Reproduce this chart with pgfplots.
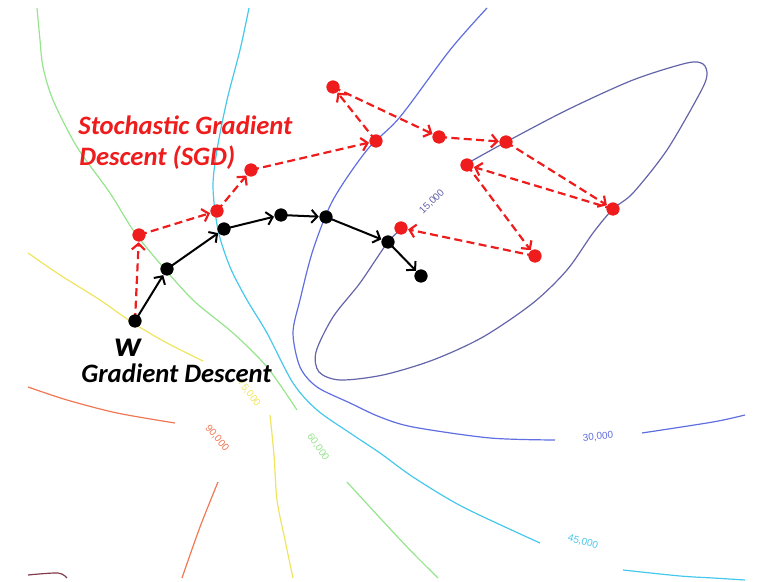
\documentclass[border=0pt]{standalone}
\usepackage{pgfplots}
\pgfplotsset{compat=1.18}
\usepackage{fontspec}
\setmainfont{Carlito}
\newfontfamily\labelfont{Liberation Sans}
\usetikzlibrary{arrows.meta}
\definecolor{cgreen}{RGB}{150,228,140}
\definecolor{ccyan}{RGB}{70,200,235}
\definecolor{cblue}{RGB}{95,110,225}
\definecolor{cslate}{RGB}{100,100,170}
\definecolor{cyellow}{RGB}{240,228,95}
\definecolor{corange}{RGB}{240,120,85}
\definecolor{cmaroon}{RGB}{130,60,75}
\definecolor{sgdred}{RGB}{238,28,28}
\begin{document}
\begin{tikzpicture}
\begin{axis}[
  scale only axis, width=378.5pt, height=291pt,
  xmin=0, xmax=757, ymin=0, ymax=582, y dir=reverse,
  axis lines=box, axis line style={draw=none}, ticks=none,
  clip=true,
  every axis plot/.append style={line join=round},
]
% contour lines
\addplot[cgreen, line width=0.6pt, smooth] coordinates {(37,8) (40,40) (43,67) (53,100) (77,147) (110,193) (133,230) (157,260) (193,300) (233,333) (267,367) (297,410)};
\addplot[cgreen, line width=0.6pt, smooth] coordinates {(347,482) (380,518) (410,550) (438,578)};
\addplot[ccyan, line width=0.6pt, smooth] coordinates {(249,8) (240,50) (227,100) (217,150) (213,187) (218,230) (230,267) (247,300) (267,333) (293,383) (317,410) (350,433) (380,453) (413,477) (463,507) (540,543)};
\addplot[ccyan, line width=0.6pt, smooth] coordinates {(623,570) (680,576) (713,578) (745,580)};
\addplot[cblue, line width=0.6pt, smooth] coordinates {(487,8) (450,50) (400,117) (367,150) (333,200) (313,250) (300,300) (293,333) (300,367) (317,387) (350,403) (380,417) (413,427) (490,438) (555,440)};
\addplot[cblue, line width=0.6pt, smooth] coordinates {(642,433) (713,422) (745,415)};
\addplot[cslate, line width=0.6pt, smooth] coordinates {(468,163) (506,142) (567,110) (633,80) (687,63) (703,64) (707,75) (700,93) (667,150) (633,193) (613,209) (593,233) (567,270) (533,303) (483,337) (433,360) (383,375) (340,380) (319,372) (316,352) (333,317) (360,283) (388,242) (403,228)};
\addplot[cyellow, line width=0.6pt, smooth] coordinates {(28,253) (60,275) (100,300) (133,323) (167,343) (203,361)};
\addplot[cyellow, line width=0.6pt, smooth] coordinates {(270,415) (274,455) (277,500) (285,540) (293,578)};
\addplot[corange, line width=0.6pt, smooth] coordinates {(28,387) (67,400) (117,413) (175,423)};
\addplot[corange, line width=0.6pt, smooth] coordinates {(218,482) (200,527) (182,578)};
\addplot[cmaroon, line width=0.6pt, smooth] coordinates {(28,575) (58,573) (67,578)};
% contour labels
\node[font=\labelfont\fontsize{5}{6}\selectfont, text=cslate, rotate=45] at (axis cs:432,202) {15,000};
\node[font=\labelfont\fontsize{5}{6}\selectfont, text=cblue, rotate=5] at (axis cs:598,437) {30,000};
\node[font=\labelfont\fontsize{5}{6}\selectfont, text=ccyan, rotate=-15] at (axis cs:583,542) {45,000};
\node[font=\labelfont\fontsize{5}{6}\selectfont, text=cgreen, rotate=-55] at (axis cs:318,447) {60,000};
\node[font=\labelfont\fontsize{5}{6}\selectfont, text=cyellow, rotate=-52] at (axis cs:249,393) {75,000};
\node[font=\labelfont\fontsize{5}{6}\selectfont, text=corange, rotate=-50] at (axis cs:217,438) {90,000};
% SGD arrows
\addplot[sgdred, line width=1.1pt, dash pattern=on 4pt off 2.2pt, -{Straight Barb[length=3pt,width=6.5pt]}, shorten >=3.6pt,
  quiver={u=\thisrow{x2}-\thisrow{x}, v=\thisrow{y2}-\thisrow{y}}] table {
x y x2 y2
135 321 139 235
139 235 217 211
217 211 251 170
251 170 376 141
376 141 333 87
333 87 439 137
439 137 506 142
506 142 613 209
613 209 467 165
467 165 535 256
535 256 401 228
};
% GD arrows
\addplot[black, line width=1pt, -{Straight Barb[length=3pt,width=6.5pt]}, shorten >=3.6pt,
  quiver={u=\thisrow{x2}-\thisrow{x}, v=\thisrow{y2}-\thisrow{y}}] table {
x y x2 y2
135 321 167 269
167 269 224 229
224 229 281 215
281 215 326 217
326 217 388 242
388 242 421 276
};
\addplot[only marks, mark=*, mark size=3.1pt, sgdred, mark options={draw=sgdred, fill=sgdred}] coordinates {
(139,235) (217,211) (251,170) (376,141) (333,87) (439,137) (506,142) (613,209) (467,165) (535,256) (401,228)};
\addplot[only marks, mark=*, mark size=3.1pt, black] coordinates {
(135,321) (167,269) (224,229) (281,215) (326,217) (388,242) (421,276)};
% texts
\node[anchor=base west, inner sep=0pt, text=sgdred, font=\fontsize{13.3}{15}\selectfont\bfseries\itshape] at (axis cs:78,135) {Stochastic Gradient};
\node[anchor=base west, inner sep=0pt, text=sgdred, font=\fontsize{13.3}{15}\selectfont\bfseries\itshape] at (axis cs:79,166) {Descent (SGD)};
\node[anchor=base west, inner sep=0pt, font=\fontsize{18}{20}\selectfont\bfseries\itshape] at (axis cs:114,357) {w};
\node[anchor=base west, inner sep=0pt, font=\fontsize{13.3}{15}\selectfont\bfseries\itshape] at (axis cs:81,383) {Gradient Descent};
\end{axis}
\end{tikzpicture}
\end{document}
